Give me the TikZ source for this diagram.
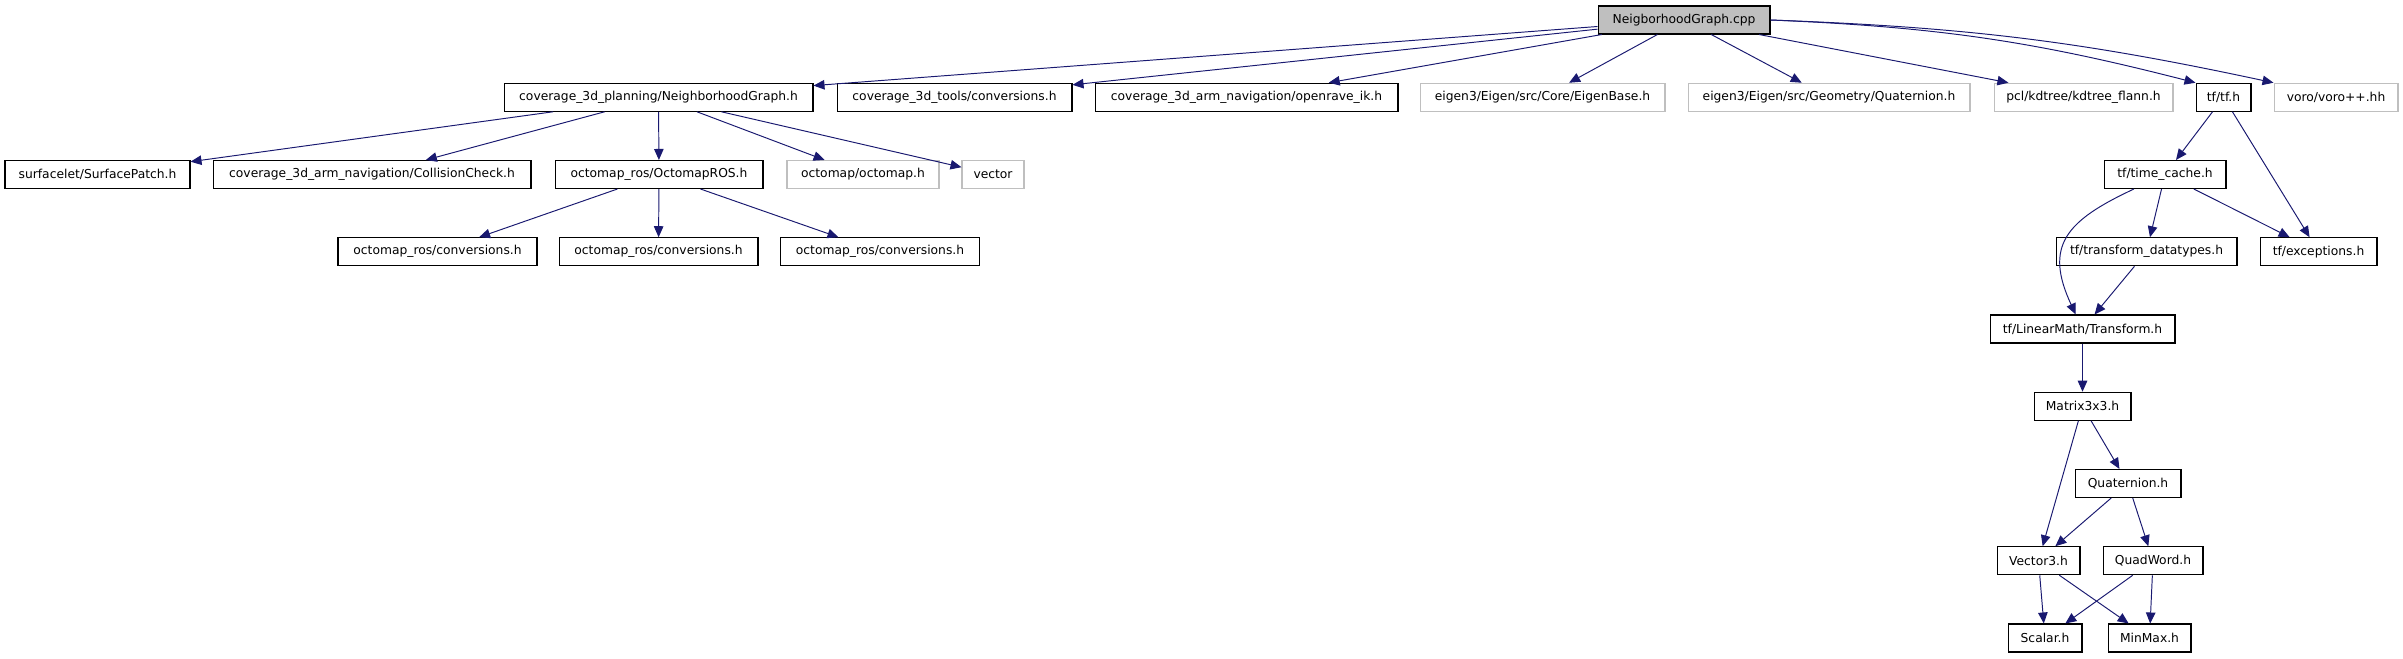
\documentclass[tikz,border=0pt]{standalone}
\usepackage{fontspec}
\setmainfont{DejaVu Sans}
\usepackage{xcolor}
\usetikzlibrary{arrows.meta}
\usetikzlibrary{math}
\definecolor{edgeblue}{RGB}{25,25,112}
\definecolor{extgrey}{RGB}{191,191,191}

\tikzset{
file/.style={draw=black, line width=0.6pt, minimum height=0.56cm, inner sep=0pt, font=\fontsize{7}{8.4}\selectfont},
extfile/.style={file, draw=extgrey},
mainfile/.style={file, fill=extgrey},
dep/.style={draw=edgeblue, line width=0.55pt, -{Triangle[length=0.22cm,width=0.19cm]}},
}

\begin{document}
\begin{tikzpicture}[x=0.02cm,y=0.02cm]
\tikzmath{
\dy=77.25;
\yo=-20;
}
\useasboundingbox (0,0) rectangle (2403,-659);

% source file
\node[mainfile, minimum width=3.44cm] (cpp) at (1684,\yo) {NeigborhoodGraph.cpp};

% direct includes
\node[file, minimum width=6.18cm] (ngh) at (658.5,\yo-\dy) {coverage\_3d\_planning/NeighborhoodGraph.h};
\node[file, minimum width=4.70cm] (tconv) at (954.5,\yo-\dy) {coverage\_3d\_tools/conversions.h};
\node[file, minimum width=6.06cm] (ik) at (1246.5,\yo-\dy) {coverage\_3d\_arm\_navigation/openrave\_ik.h};
\node[extfile, minimum width=4.90cm] (eigb) at (1542.5,\yo-\dy) {eigen3/Eigen/src/Core/EigenBase.h};
\node[extfile, minimum width=5.64cm] (eigq) at (1829,\yo-\dy) {eigen3/Eigen/src/Geometry/Quaternion.h};
\node[extfile, minimum width=3.58cm] (kdt) at (2083.5,\yo-\dy) {pcl/kdtree/kdtree\_flann.h};
\node[file, minimum width=1.10cm] (tf) at (2223.5,\yo-\dy) {tf/tf.h};
\node[extfile, minimum width=2.48cm] (voro) at (2336,\yo-\dy) {voro/voro++.hh};

% planning side
\node[file, minimum width=3.70cm] (patch) at (97.5,\yo-2*\dy) {surfacelet/SurfacePatch.h};
\node[file, minimum width=6.36cm] (coll) at (372,\yo-2*\dy) {coverage\_3d\_arm\_navigation/CollisionCheck.h};
\node[file, minimum width=4.16cm] (oros) at (659,\yo-2*\dy) {octomap\_ros/OctomapROS.h};
\node[extfile, minimum width=3.04cm] (omap) at (863,\yo-2*\dy) {octomap/octomap.h};
\node[extfile, minimum width=1.24cm] (vec) at (993,\yo-2*\dy) {vector};

\node[file, minimum width=3.98cm] (conva) at (437.5,\yo-3*\dy) {octomap\_ros/conversions.h};
\node[file, minimum width=3.98cm] (convb) at (658.5,\yo-3*\dy) {octomap\_ros/conversions.h};
\node[file, minimum width=3.98cm] (convc) at (880,\yo-3*\dy) {octomap\_ros/conversions.h};

% tf side
\node[file, minimum width=2.44cm] (tcache) at (2165,\yo-2*\dy) {tf/time\_cache.h};
\node[file, minimum width=3.62cm] (tdt) at (2146.5,\yo-3*\dy) {tf/transform\_datatypes.h};
\node[file, minimum width=2.34cm] (exc) at (2318.5,\yo-3*\dy) {tf/exceptions.h};
\node[file, minimum width=3.70cm] (trans) at (2082.5,\yo-4*\dy) {tf/LinearMath/Transform.h};
\node[file, minimum width=1.94cm] (mat) at (2082.5,\yo-5*\dy) {Matrix3x3.h};
\node[file, minimum width=2.12cm] (quat) at (2128,\yo-6*\dy) {Quaternion.h};
\node[file, minimum width=1.66cm] (vecc) at (2038.5,\yo-7*\dy) {Vector3.h};
\node[file, minimum width=2.00cm] (qw) at (2153,\yo-7*\dy) {QuadWord.h};
\node[file, minimum width=1.48cm] (scal) at (2045,\yo-8*\dy) {Scalar.h};
\node[file, minimum width=1.66cm] (mm) at (2149.5,\yo-8*\dy) {MinMax.h};

% edges
\draw[dep] (cpp) -- (ngh);
\draw[dep] (cpp) -- (tconv);
\draw[dep] (cpp) -- (ik);
\draw[dep] (cpp) -- (eigb);
\draw[dep] (cpp) -- (eigq);
\draw[dep] (cpp) -- (kdt);
\draw[dep] (cpp.east) to[bend left=6] (tf.north west);
\draw[dep] (cpp.east) to[bend left=5] (voro.north west);

\draw[dep] (ngh) -- (patch);
\draw[dep] (ngh) -- (coll);
\draw[dep] (ngh) -- (oros);
\draw[dep] (ngh) -- (omap);
\draw[dep] (ngh) -- (vec);

\draw[dep] (oros) -- (conva);
\draw[dep] (oros) -- (convb);
\draw[dep] (oros) -- (convc);

\draw[dep] (tf) -- (tcache);
\draw[dep] (tf) -- (exc);
\draw[dep] (tcache) to[out=205,in=115,looseness=1.4] (trans);
\draw[dep] (tcache) -- (tdt);
\draw[dep] (tcache) -- (exc);
\draw[dep] (tdt) -- (trans);
\draw[dep] (trans) -- (mat);
\draw[dep] (mat) -- (vecc);
\draw[dep] (mat) -- (quat);
\draw[dep] (quat) -- (vecc);
\draw[dep] (quat) -- (qw);
\draw[dep] (vecc) -- (scal);
\draw[dep] (vecc) -- (mm);
\draw[dep] (qw) -- (scal);
\draw[dep] (qw) -- (mm);

\end{tikzpicture}
\end{document}
